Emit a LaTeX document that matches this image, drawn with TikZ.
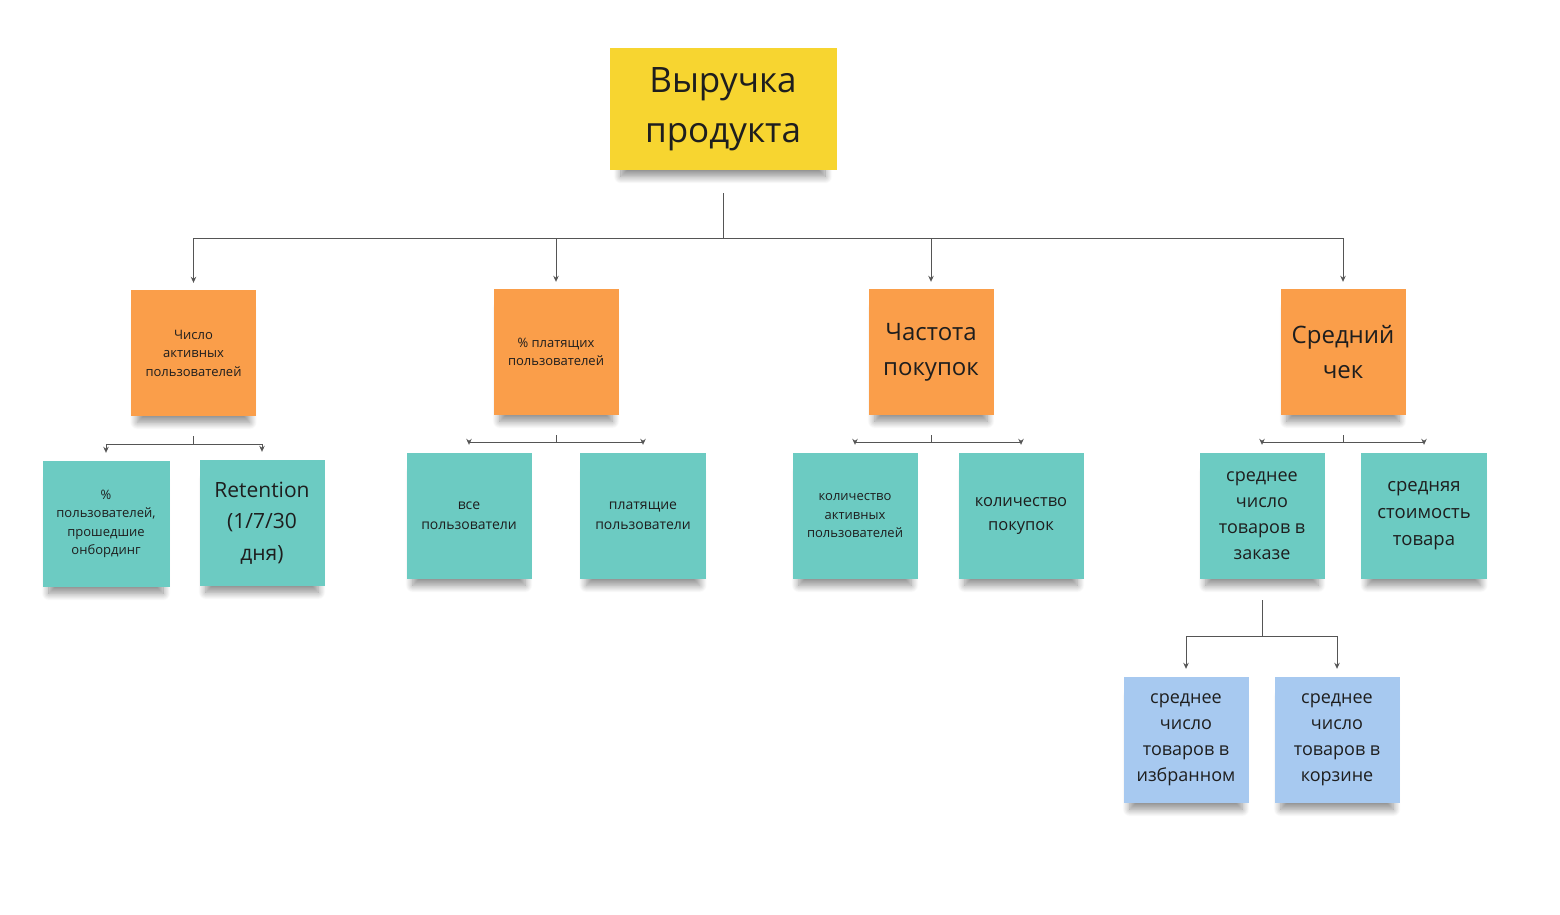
\documentclass[tikz,border=0pt]{standalone}
\usepackage{fontspec}
\setmainfont{Open Sans}
\usetikzlibrary{arrows.meta,positioning,shadows.blur}
\definecolor{Ink}{HTML}{1E1E1E}
\definecolor{Wire}{HTML}{555555}
\definecolor{Lemon}{HTML}{F7D530}
\definecolor{Peach}{HTML}{FA9E4A}
\definecolor{Mint}{HTML}{6CCBC2}
\definecolor{Sky}{HTML}{A7C9F0}
\tikzset{
  sticky/.style={
    inner sep=0pt, minimum width=125pt, minimum height=126pt,
    align=center, text=Ink,
    blur shadow={shadow xshift=0pt, shadow yshift=-14pt, shadow scale=0.9,
      shadow opacity=45, shadow blur radius=8pt, shadow blur steps=12}
  },
  goal/.style={sticky, fill=Lemon, minimum width=227pt, minimum height=122pt,
    font=\fontsize{35}{50}\selectfont},
  driver/.style={sticky, fill=Peach},
  factor/.style={sticky, fill=Mint},
  subfactor/.style={sticky, fill=Sky},
  tiny/.style={font=\fontsize{13}{18.5}\selectfont},
  small/.style={font=\fontsize{14}{20}\selectfont},
  mid/.style={font=\fontsize{18}{26}\selectfont},
  big/.style={font=\fontsize{24}{35}\selectfont},
  wire/.style={-{Stealth[length=6pt,width=5.5pt]}, line width=0.9pt, draw=Wire}
}

\begin{document}
\begin{tikzpicture}[x=1pt,y=-1pt]
  \useasboundingbox (0,0) rectangle (1560,914);
  % goal
  \node[goal] (goal) at (723,109) {Выручка\\продукта};
  % drivers
  \node[driver,tiny] (d1) at (193.5,353) {Число\\активных\\пользователей};
  \node[driver,tiny] (d2) at (556,352) {\%~платящих\\пользователей};
  \node[driver,big] (d3) at (931,352) {Частота\\покупок};
  \node[driver,big] (d4) at (1343,352) {Средний\\чек};
  % factors
  \node[factor,tiny,minimum width=127pt] (f1) at (106,524) {\%\\пользователей,\\прошедшие\\онбординг};
  \node[factor,font=\fontsize{21}{31.5}\selectfont] (f2) at (262,523) {Retention\\(1/7/30\\дня)};
  \node[factor,small] (f3) at (469,516) {все\\пользователи};
  \node[factor,small,minimum width=126pt] (f4) at (643,516) {платящие\\пользователи};
  \node[factor,tiny] (f5) at (855,516) {количество\\активных\\пользователей};
  \node[factor,font=\fontsize{16.5}{24}\selectfont] (f6) at (1021,516) {количество\\покупок};
  \node[factor,mid] (f7) at (1262,516) {среднее\\число\\товаров в\\заказе};
  \node[factor,font=\fontsize{18.5}{27}\selectfont,minimum width=126pt] (f8) at (1424,516) {средняя\\стоимость\\товара};
  % sub factors
  \node[subfactor,mid] (s1) at (1186,740) {среднее\\число\\товаров в\\избранном};
  \node[subfactor,mid] (s2) at (1337,740) {среднее\\число\\товаров в\\корзине};

  \foreach \d in {d1,d2,d3,d4}
    \draw[wire, shorten <=23pt, shorten >=7pt] (goal.south) -- ++(0,68) -| (\d.north);
  \foreach \p/\a/\b/\drop in {d1/f1/f2/28, d2/f3/f4/27, d3/f5/f6/27, d4/f7/f8/27} {
    \draw[wire, shorten <=20pt, shorten >=8pt] (\p.south) -- ++(0,\drop) -| (\a.north);
    \draw[wire, shorten <=20pt, shorten >=8pt] (\p.south) -- ++(0,\drop) -| (\b.north);
  }
  \draw[wire, shorten <=21pt, shorten >=8pt] (f7.south) -- ++(0,57) -| (s1.north);
  \draw[wire, shorten <=21pt, shorten >=8pt] (f7.south) -- ++(0,57) -| (s2.north);
\end{tikzpicture}
\end{document}
